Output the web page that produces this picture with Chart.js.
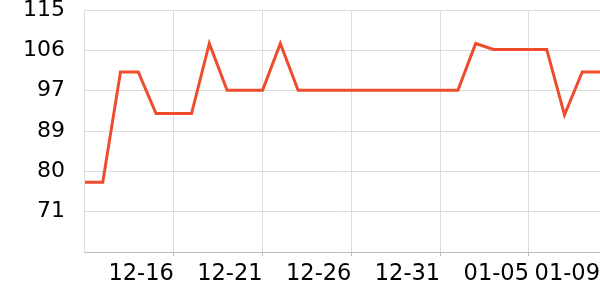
<!DOCTYPE html>
<html>
<head>
<meta charset="utf-8">
<script src="https://cdn.jsdelivr.net/npm/chart.js@4"></script>
<style>
  html, body { margin: 0; padding: 0; background: #fff; }
  #wrap { width: 600px; height: 300px; position: relative; }
</style>
</head>
<body>
<div id="wrap"><canvas id="chart"></canvas></div>
<script>
// Dates along the x axis (one point per day)
const dates = [
  '12-11', '12-12', '12-13', '12-14', '12-15', '12-16', '12-17', '12-18', '12-19', '12-20',
  '12-21', '12-22', '12-23', '12-24', '12-25', '12-26', '12-27', '12-28', '12-29', '12-30',
  '12-31', '01-01', '01-02', '01-03', '01-04', '01-05', '01-06', '01-07', '01-08', '01-09'
];

// Series values
const values = [
  77.4, 77.4, 101.5, 101.5, 92.4, 92.4, 92.4, 107.7, 97.5, 97.5,
  97.5, 107.7, 97.5, 97.5, 97.5, 97.5, 97.5, 97.5, 97.5, 97.5,
  97.5, 97.5, 107.7, 106.4, 106.4, 106.4, 106.4, 92.1, 101.5, 101.5
];

// Labels shown on the axes
const xTickLabels = ['12-16', '12-21', '12-26', '12-31', '01-05', '01-09'];
const yTickLabels = ['71', '80', '89', '97', '106', '115'];
const yMin = 62.2;
const yMax = 115;
const yStep = 8.8;

const ctx = document.getElementById('chart').getContext('2d');
new Chart(ctx, {
  type: 'line',
  data: {
    labels: dates,
    datasets: [
      {
        data: values,
        borderColor: '#ee4c2c',
        backgroundColor: 'rgba(0, 0, 0, 0)',
        borderWidth: 3,
        pointRadius: 0,
        tension: 0
      }
    ]
  },
  options: {
    responsive: true,
    maintainAspectRatio: false,
    animation: false,
    layout: {
      padding: { left: 23, right: 0, top: 0, bottom: 7 }
    },
    scales: {
      x: {
        offset: false,
        grid: {
          color: '#dddddd',
          drawTicks: true,
          tickLength: 4,
          tickColor: '#bbbbbb'
        },
        border: { color: '#bbbbbb' },
        ticks: {
          autoSkip: false,
          maxRotation: 0,
          align: 'end',
          padding: 5,
          color: '#000',
          font: { family: 'DejaVu Sans', size: 22.5 },
          // only a few dates get a label (and a grid line)
          callback: function (value, index) {
            const lbl = dates[index];
            return xTickLabels.includes(lbl) ? lbl : null;
          }
        },
        afterFit: function (scale) {
          scale.paddingLeft = 0;
          scale.paddingRight = 0;
        }
      },
      y: {
        min: yMin,
        max: yMax,
        grid: {
          color: '#dddddd',
          drawTicks: true,
          tickLength: 20,
          tickColor: 'rgba(0, 0, 0, 0)'
        },
        border: { color: '#dddddd' },
        ticks: {
          stepSize: yStep,
          padding: 0,
          color: '#000',
          font: { family: 'DejaVu Sans', size: 22 },
          // bottom tick has no label
          callback: function (value, index) {
            return index === 0 ? null : yTickLabels[index - 1];
          }
        },
        afterFit: function (scale) {
          scale.paddingTop = 10;
          scale.paddingBottom = 0;
        }
      }
    },
    plugins: {
      legend: { display: false },
      tooltip: { enabled: false }
    }
  }
});
</script>
</body>
</html>
